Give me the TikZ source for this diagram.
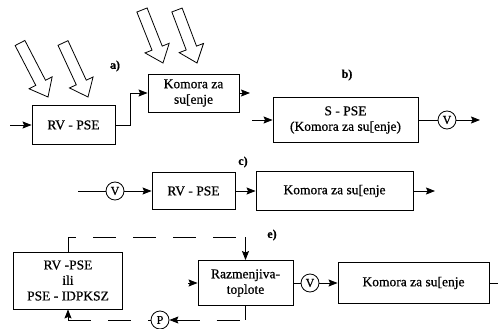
\documentclass[tikz,border=0pt]{standalone}
\usepackage{fontspec}
\setmainfont{Liberation Serif}[FakeBold=0.6]
\usetikzlibrary{calc,arrows.meta}
\tikzset{
  box/.style={draw, line width=0.9pt, inner sep=0pt, align=center, font=\fontsize{13.5}{15.5}\selectfont},
  valve/.style={draw, circle, line width=0.8pt, minimum size=18pt, inner sep=0pt, font=\fontsize{12}{12}\selectfont},
  flow/.style={line width=0.8pt},
  tip/.style={-{Stealth[length=9pt,width=7pt,inset=1.5pt]}},
  arr/.style={flow, tip},
  ret/.style={flow, dash pattern=on 23pt off 17pt},
  tag/.style={font=\bfseries\fontsize{12}{12}\selectfont},
  hollow/.style={draw, line width=0.8pt, fill=white, line join=miter},
}
\newcommand{\hollowarr}[2]{%
  \path (#2) coordinate (ht) ($(#2)!16pt!(#1)$) coordinate (hb);
  \draw[hollow] (ht) -- ($(hb)!13pt!90:(ht)$) -- ($(hb)!5.5pt!90:(ht)$) -- ($(#1)!5.5pt!90:(hb)$) -- ($(#1)!5.5pt!-90:(hb)$) -- ($(hb)!5.5pt!-90:(ht)$) -- ($(hb)!13pt!-90:(ht)$) -- cycle;}
\begin{document}
\begin{tikzpicture}[x=1pt,y=-1pt]
\useasboundingbox (0,0) rectangle (498,329);
\clip (0,0) rectangle (498,329);
\fill[white] (0,0) rectangle (498,329);

% ---- a) ----
\hollowarr{20,43}{48,97}
\hollowarr{63,43}{88,97}
\hollowarr{142,10}{163,63}
\hollowarr{177,10}{197,63}
\node[tag] (la) at (115,66) {a)};
\node[box, minimum width=83pt, minimum height=39pt] (a1) at (73.5,125) {RV - PSE};
\node[box, minimum width=91pt, minimum height=38pt] (a2) at (193.5,93) {Komora za\\su[enje};
\coordinate (ain) at (10,125);
\coordinate (aout) at (250,93);
\draw[arr] (ain) -- (a1.west);
\draw[arr] (a1.east) -- ++(15,0) |- (a2.west);
\draw[arr] (a2.east) -- (aout);

% ---- b) ----
\node[tag] (lb) at (347,75) {b)};
\node[box, minimum width=145pt, minimum height=45pt] (b1) at (345.5,120) {S - PSE\\(Komora za su[enje)};
\node[valve] (bv) at (447,120) {V};
\coordinate (bin) at (252,120);
\coordinate (bout) at (480,120);
\draw[arr] (bin) -- (b1.west);
\draw[flow] (b1.east) -- (bv.west);
\draw[arr] (bv.east) -- (bout);

% ---- c) ----
\node[tag] (lc) at (243,162) {c)};
\node[valve] (cv) at (115,191) {V};
\node[box, minimum width=83pt, minimum height=37pt] (c1) at (193.5,191) {RV - PSE};
\node[box, minimum width=157pt, minimum height=39pt] (c2) at (334.5,191) {Komora za su[enje};
\coordinate (cin) at (78,191);
\coordinate (cout) at (435,191);
\draw[flow] (cin) -- (cv.west);
\draw[arr] (cv.east) -- (c1.west);
\draw[arr] (c1.east) -- (c2.west);
\draw[arr] (c2.east) -- (cout);

% ---- e) ----
\node[tag] (le) at (272,235) {e)};
\node[box, minimum width=109pt, minimum height=57pt] (e1) at (68,280.5) {RV -PSE\\ili\\PSE - IDPKSZ};
\node[box, minimum width=95pt, minimum height=45pt] (e2) at (245.5,283) {Razmenjiva-\\toplote};
\node[valve] (ev) at (310,283) {V};
\node[box, minimum width=151pt, minimum height=41pt] (e3) at (413.5,283) {Komora za su[enje};
\node[valve] (ep) at (160,320) {P};
\coordinate (tr) at (245.5,237);
\coordinate (br) at (245.5,320);
\coordinate (bl) at (68,320);
\coordinate (ein) at (188,283);
\coordinate (eout) at (510,283);
\draw[ret] (e1.north) |- (tr);
\draw[arr] (tr) -- (e2.north);
\draw[arr] (ein) -- (e2.west);
\draw[flow] (e2.east) -- (ev.west);
\draw[arr] (ev.east) -- (e3.west);
\draw[arr] (e3.east) -- (eout);
\draw[flow] (e2.south) -- (br);
\draw[ret, {Stealth[length=9pt,width=7pt,inset=1.5pt]}-] (ep.east) -- (br);
\draw[ret] (bl) -- (ep.west);
\draw[arr] (bl) -- (e1.south);
\end{tikzpicture}
\end{document}
